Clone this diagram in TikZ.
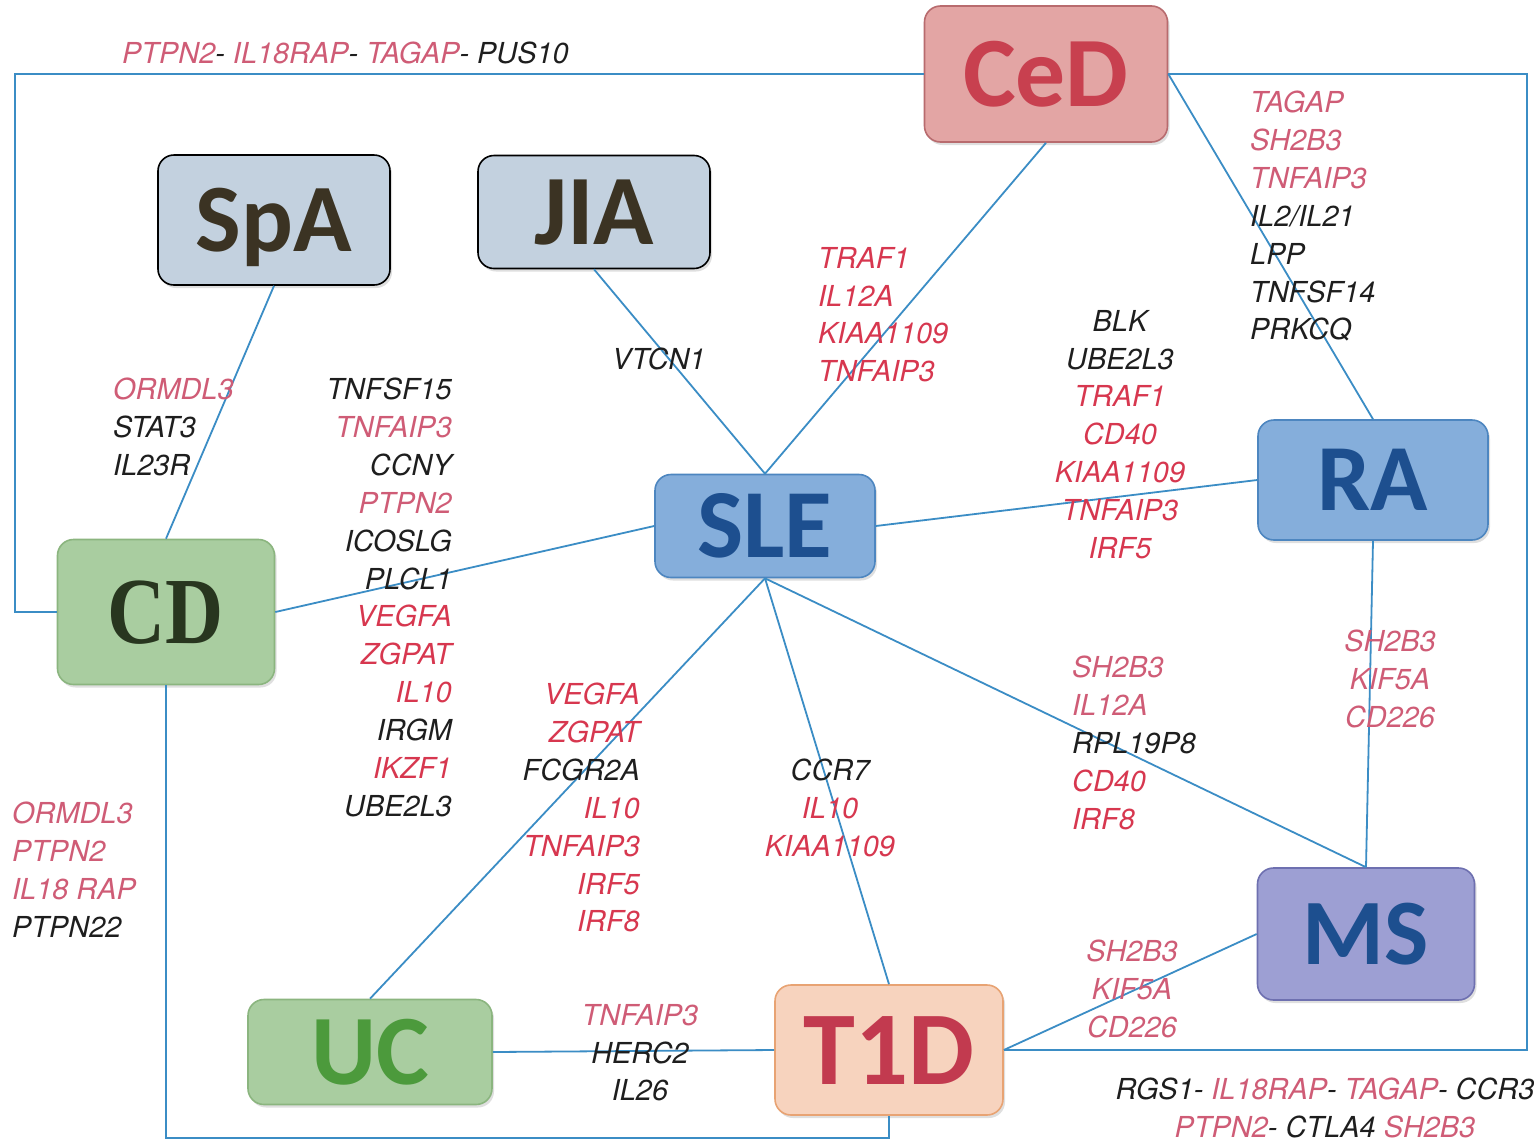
\documentclass[tikz,border=0pt]{standalone}
\usepackage{fontspec}
\setmainfont{TeX Gyre Heros}
\newfontfamily\boxsans{Carlito}
\newfontfamily\boxserif{Liberation Serif}
\usetikzlibrary{shadows}
\definecolor{gred}{HTML}{D7374F}
\definecolor{gpink}{HTML}{CF5C76}
\definecolor{gblack}{HTML}{1E1E1E}
\definecolor{linkblue}{HTML}{3B8DC5}
\definecolor{cedfill}{HTML}{E3A5A4}
\definecolor{cedline}{HTML}{B86B6E}
\definecolor{cedtext}{HTML}{C8404F}
\definecolor{greyfill}{HTML}{C3D1DF}
\definecolor{greytext}{HTML}{3B3323}
\definecolor{bluefill}{HTML}{85AEDB}
\definecolor{blueline}{HTML}{4D86C0}
\definecolor{bluetext}{HTML}{1D4F8F}
\definecolor{greenfill}{HTML}{A9CDA0}
\definecolor{greenline}{HTML}{8BB57F}
\definecolor{cdtext}{HTML}{28361F}
\definecolor{uctext}{HTML}{4C9A3C}
\definecolor{msfill}{HTML}{9D9FD3}
\definecolor{msline}{HTML}{6E70B0}
\definecolor{tfill}{HTML}{F7D3BE}
\definecolor{tline}{HTML}{E8A373}
\definecolor{ttext}{HTML}{C23A4F}
\newcommand{\redgene}[1]{\textcolor{gred}{#1}}
\newcommand{\pinkgene}[1]{\textcolor{gpink}{#1}}
\begin{document}
\begin{tikzpicture}[x=1bp,y=-1bp,
  diseasebox/.style={draw, rounded corners=16bp, line width=1.6bp, inner sep=0pt,
    drop shadow={opacity=0.25, shadow xshift=2bp, shadow yshift=-3bp}},
  sanslabel/.style={font=\boxsans\bfseries\fontsize{#1}{#1}\selectfont},
  genes/.style={font=\fontsize{29}{38}\selectfont\itshape, text=gblack, inner sep=0pt},
  link/.style={draw=linkblue, line width=1.8bp}]
\useasboundingbox (0,0) rectangle (1534,1143);
\fill[white] (0,0) rectangle (1534,1143);

% ---------- corner coordinates ----------
\coordinate (lcol) at (15,0);
\coordinate (rcol) at (1527,0);
\coordinate (brow) at (0,1138);

% ---------- disease boxes ----------
\node[diseasebox, fill=cedfill, draw=cedline, minimum width=243bp, minimum height=136bp,
  sanslabel=100, text=cedtext, text height=64bp, text depth=0pt] (CeD) at (1046,74) {CeD};
\node[diseasebox, fill=greyfill, draw=black, minimum width=232bp, minimum height=130bp,
  sanslabel=97, text=greytext, text height=62bp, text depth=0pt] (SpA) at (274,220) {SpA};
\node[diseasebox, fill=greyfill, draw=black, minimum width=232bp, minimum height=113bp,
  sanslabel=100, text=greytext, text height=64bp, text depth=0pt] (JIA) at (594,212) {JIA};
\node[diseasebox, fill=bluefill, draw=blueline, minimum width=220bp, minimum height=103bp,
  sanslabel=98, text=bluetext, text height=63bp, text depth=0pt] (SLE) at (765,526) {SLE};
\node[diseasebox, fill=bluefill, draw=blueline, minimum width=230bp, minimum height=120bp,
  sanslabel=95, text=bluetext, text height=61bp, text depth=0pt] (RA) at (1373,480) {RA};
\node[diseasebox, fill=greenfill, draw=greenline, minimum width=217bp, minimum height=145bp,
  font=\boxserif\bfseries\fontsize{95}{95}\selectfont, text=cdtext, text height=63bp, text depth=0pt]
  (CD) at (166,612) {\scalebox{0.85}[1]{CD}};
\node[diseasebox, fill=msfill, draw=msline, minimum width=217bp, minimum height=132bp,
  sanslabel=94, text=bluetext, text height=60bp, text depth=0pt] (MS) at (1366,934) {MS};
\node[diseasebox, fill=greenfill, draw=greenline, minimum width=244bp, minimum height=105bp,
  sanslabel=100, text=uctext, text height=64bp, text depth=0pt] (UC) at (370,1052) {UC};
\node[diseasebox, fill=tfill, draw=tline, minimum width=228bp, minimum height=130bp,
  sanslabel=105, text=ttext, text height=68bp, text depth=0pt] (T1D) at (889,1050) {T1D};

% ---------- connectors ----------
\draw[link] (CeD.west) -| (lcol |- CD.west) -- (CD.west);
\draw[link] (CeD.east) -| (rcol |- T1D.east) -- (T1D.east);
\draw[link] (CD.south) |- (brow -| T1D.south) -- (T1D.south);
\draw[link] (CeD.south) -- (SLE.north);
\draw[link] (CeD.east) -- (RA.north);
\draw[link] (JIA.south) -- (SLE.north);
\draw[link] (SpA.south) -- (CD.north);
\draw[link] (CD.east) -- (SLE.west);
\draw[link] (SLE.east) -- (RA.west);
\draw[link] (SLE.south) -- (UC.north);
\draw[link] (SLE.south) -- (T1D.north);
\draw[link] (SLE.south) -- (MS.north);
\draw[link] (RA.south) -- (MS.north);
\draw[link] (MS.west) -- (T1D.east);
\draw[link] (UC.east) -- (T1D.west);

% ---------- gene labels ----------
\node[genes, anchor=north west] (gTop) at (122,42)
  {\pinkgene{PTPN2}- \pinkgene{IL18RAP}- \pinkgene{TAGAP}- PUS10};
\node[genes, anchor=north west, align=left] (gCeDRA) at (1250,91)
  {\pinkgene{TAGAP}\\ \pinkgene{SH2B3}\\ \pinkgene{TNFAIP3}\\ IL2/IL21\\ LPP\\ TNFSF14\\ PRKCQ};
\node[genes, anchor=north west, align=left] (gCeDSLE) at (818,247)
  {\redgene{TRAF1}\\ \redgene{IL12A}\\ \redgene{KIAA1109}\\ \redgene{TNFAIP3}};
\node[genes, anchor=north west] (gJIASLE) at (612,348) {VTCN1};
\node[genes, anchor=north west, align=left] (gSpACD) at (113,378)
  {\pinkgene{ORMDL3}\\ STAT3\\ IL23R};
\node[genes, anchor=north east, align=right] (gCDSLE) at (452,378)
  {TNFSF15\\ \pinkgene{TNFAIP3}\\ CCNY\\ \pinkgene{PTPN2}\\ ICOSLG\\ PLCL1\\ \redgene{VEGFA}\\
   \redgene{ZGPAT}\\ \redgene{IL10}\\ IRGM\\ \redgene{IKZF1}\\ UBE2L3};
\node[genes, anchor=north east, align=right] (gSLEUC) at (640,683)
  {\redgene{VEGFA}\\ \redgene{ZGPAT}\\ FCGR2A\\ \redgene{IL10}\\ \redgene{TNFAIP3}\\ \redgene{IRF5}\\ \redgene{IRF8}};
\node[genes, anchor=north, align=center] (gSLET1D) at (830,759)
  {CCR7\\ \redgene{IL10}\\ \redgene{KIAA1109}};
\node[genes, anchor=north, align=center] (gSLERA) at (1120,310)
  {BLK\\ UBE2L3\\ \redgene{TRAF1}\\ \redgene{CD40}\\ \redgene{KIAA1109}\\ \redgene{TNFAIP3}\\ \redgene{IRF5}};
\node[genes, anchor=north west, align=left] (gSLEMS) at (1072,656)
  {\pinkgene{SH2B3}\\ \pinkgene{IL12A}\\ RPL19P8\\ \redgene{CD40}\\ \redgene{IRF8}};
\node[genes, anchor=north, align=center] (gRAMS) at (1390,630)
  {\pinkgene{SH2B3}\\ \pinkgene{KIF5A}\\ \pinkgene{CD226}};
\node[genes, anchor=north west, align=left] (gCDT1D) at (12,802)
  {\pinkgene{ORMDL3}\\ \pinkgene{PTPN2}\\ \pinkgene{IL18 RAP}\\ PTPN22};
\node[genes, anchor=north, align=center] (gUCT1D) at (640,1004)
  {\pinkgene{TNFAIP3}\\ HERC2\\ IL26};
\node[genes, anchor=north, align=center] (gMST1D) at (1132,940)
  {\pinkgene{SH2B3}\\ \pinkgene{KIF5A}\\ \pinkgene{CD226}};
\node[genes, anchor=north, align=center] (gBottom) at (1325,1078)
  {RGS1- \pinkgene{IL18RAP}- \pinkgene{TAGAP}- CCR3\\ \pinkgene{PTPN2}- CTLA4 \pinkgene{SH2B3}};
\end{tikzpicture}
\end{document}
